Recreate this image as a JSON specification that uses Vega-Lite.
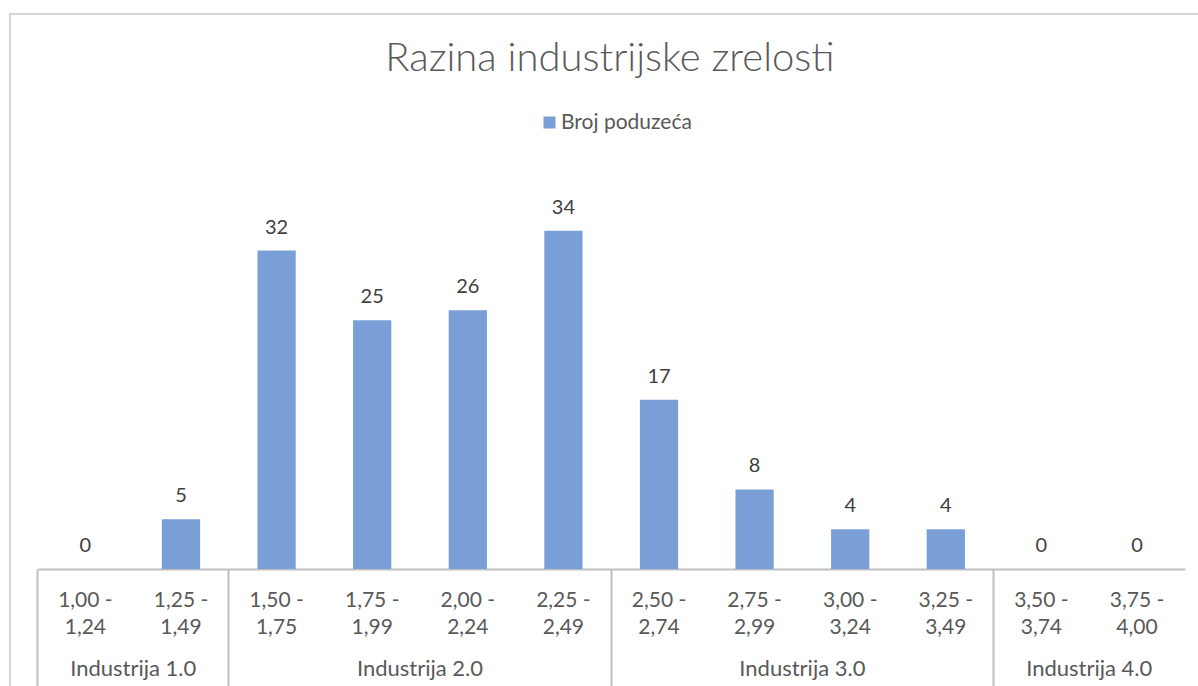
{
  "$schema": "https://vega.github.io/schema/vega-lite/v6.json",
  "width": 1188,
  "height": 672,
  "autosize": {"type": "none"},
  "padding": {"left": 10, "top": 14, "right": 0, "bottom": 0},
  "background": "white",
  "config": {
    "view": {"stroke": "#d4d4d4", "strokeWidth": 2, "strokeDash": [1188, 1860, 680]},
    "font": "Lato"
  },
  "title": {
    "text": "Razina industrijske zrelosti",
    "fontSize": 40,
    "font": "Lato",
    "fontWeight": 300,
    "color": "#595959",
    "anchor": "middle",
    "frame": "group",
    "offset": -97,
    "baseline": "alphabetic",
    "dx": 6
  },
  "data": {
    "values": [
      {"cat": "1,00 - 1,24", "group": "Industrija 1.0", "count": 0},
      {"cat": "1,25 - 1,49", "group": "Industrija 1.0", "count": 5},
      {"cat": "1,50 - 1,75", "group": "Industrija 2.0", "count": 32},
      {"cat": "1,75 - 1,99", "group": "Industrija 2.0", "count": 25},
      {"cat": "2,00 - 2,24", "group": "Industrija 2.0", "count": 26},
      {"cat": "2,25 - 2,49", "group": "Industrija 2.0", "count": 34},
      {"cat": "2,50 - 2,74", "group": "Industrija 3.0", "count": 17},
      {"cat": "2,75 - 2,99", "group": "Industrija 3.0", "count": 8},
      {"cat": "3,00 - 3,24", "group": "Industrija 3.0", "count": 4},
      {"cat": "3,25 - 3,49", "group": "Industrija 3.0", "count": 4},
      {"cat": "3,50 - 3,74", "group": "Industrija 4.0", "count": 0},
      {"cat": "3,75 - 4,00", "group": "Industrija 4.0", "count": 0}
    ]
  },
  "layer": [
    {
      "mark": {"type": "bar", "width": {"band": 0.4}},
      "encoding": {
        "x": {
          "field": "cat",
          "type": "nominal",
          "sort": null,
          "scale": {"range": [27.6, 1174.8], "paddingInner": 0, "paddingOuter": 0},
          "axis": {
            "orient": "bottom",
            "offset": -117,
            "title": null,
            "domainColor": "#bfbfbf",
            "domainWidth": 2,
            "ticks": false,
            "labelAngle": 0,
            "labelFont": "Lato",
            "labelFontSize": 21,
            "labelColor": "#595959",
            "labelPadding": 20,
            "labelLineHeight": 27,
            "labelExpr": "[split(datum.value, ' - ')[0] + ' -', split(datum.value, ' - ')[1]]"
          }
        },
        "y": {
          "field": "count",
          "type": "quantitative",
          "scale": {"domain": [0, 40], "range": [555, 157], "nice": false},
          "axis": null
        },
        "color": {
          "datum": "Broj poduzeća",
          "type": "nominal",
          "scale": {"range": ["#7a9fd7"]},
          "legend": {
            "orient": "none",
            "legendX": 529,
            "legendY": 98,
            "title": null,
            "symbolType": "square",
            "symbolSize": 144,
            "symbolStrokeWidth": 0,
            "labelFont": "Lato",
            "labelFontSize": 21,
            "labelColor": "#595959",
            "labelOffset": 1,
            "padding": 0
          }
        }
      }
    },
    {
      "mark": {"type": "text", "dy": -17, "baseline": "alphabetic", "fontSize": 20, "color": "#404040", "font": "Lato"},
      "encoding": {
        "x": {
          "field": "cat",
          "type": "nominal",
          "sort": null,
          "axis": {
            "orient": "bottom",
            "offset": -117,
            "title": null,
            "domain": false,
            "ticks": true,
            "bandPosition": 0,
            "tickSize": 120,
            "tickWidth": 2,
            "tickColor": "#bfbfbf",
            "tickOpacity": {
              "condition": {"test": "indexof(['1,00 - 1,24','1,50 - 1,75','2,50 - 2,74','3,50 - 3,74'], datum.value) >= 0", "value": 1},
              "value": 0
            },
            "labelAngle": 0,
            "labelFont": "Lato",
            "labelFontSize": 22,
            "labelColor": "#595959",
            "labelPadding": -31,
            "labelOffset": -47.8,
            "labelExpr": "datum.value == '1,25 - 1,49' ? 'Industrija  1.0' : datum.value == '2,00 - 2,24' ? 'Industrija  2.0' : datum.value == '3,00 - 3,24' ? 'Industrija  3.0' : datum.value == '3,75 - 4,00' ? 'Industrija  4.0' : ''"
          }
        },
        "y": {"field": "count", "type": "quantitative"},
        "text": {"field": "count", "type": "quantitative"}
      }
    }
  ],
  "resolve": {"axis": {"x": "independent"}}
}
